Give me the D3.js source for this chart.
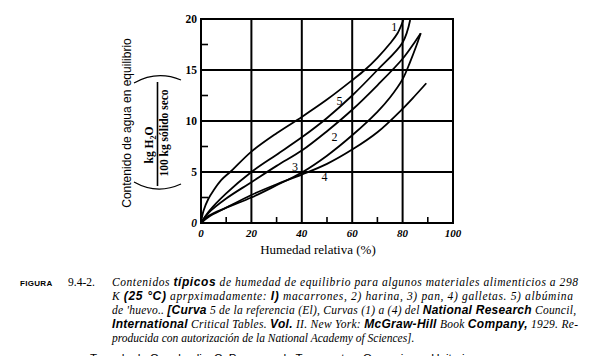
<!DOCTYPE html>
<html><head><meta charset="utf-8">
<script src="https://cdn.jsdelivr.net/npm/d3@7"></script>
<style>body{margin:0;background:#fff}</style>
</head><body>
<svg id="c" width="600" height="356"></svg>
<script>
// ---- data ----
const xTicks = [0, 20, 40, 60, 80, 100];
const yTicks = [0, 5, 10, 15, 20];
const xMinor = [10, 30, 50, 70, 90];
const yMinor = [2.5, 7.5, 12.5, 17.5];

const curve1 = [[0,0],[1,1.2],[3,2.4],[5,3.2],[8,4.2],[12,5.1],[20,7.0],[30,8.8],[40,10.4],[50,12.1],[60,14.0],[65,15.0],[70,16.2],[75,17.6],[78,18.6],[80.3,19.9]];
const curve5 = [[0,0],[3,1.1],[10,2.9],[20,5.0],[30,6.7],[40,8.4],[50,10.3],[60,12.5],[70,15.0],[80,17.7],[83,19.9]];
const curveMid = [[0,0],[3,1.0],[10,2.4],[20,4.0],[30,5.6],[40,7.1],[50,9.0],[60,11.1],[70,13.5],[80,16.1],[85,17.8],[87.2,18.6]];
const curve2 = [[0,0],[3,0.7],[10,1.5],[20,2.5],[30,3.7],[40,4.95],[50,6.6],[60,8.6],[70,10.9],[75,12.3],[80,14.1],[83,15.8],[85.5,17.4],[87.2,18.6]];
const curve4 = [[0,0],[3,0.6],[10,1.5],[20,2.75],[30,3.8],[40,4.75],[50,5.8],[60,7.2],[70,8.9],[80,11.2],[85,12.5],[89.4,13.7]];
const curves = [curve1, curve5, curveMid, curve2, curve4];

const labelText = ["1", "5", "2", "3", "4"];
const labelX = [76.7, 55.0, 53.0, 37.3, 49.0];
const labelY = [19.2, 12.0, 8.4, 5.5, 4.5];

const yTitle = "Contenido de agua en equilibrio";
const yUnitTop = "kg H";
const yUnitBottom = "100 kg sólido seco";
const xTitle = "Humedad relativa (%)";

// ---- drawing ----
const svg = d3.select("#c");
const x = d3.scaleLinear().domain([0, 100]).range([201, 453]);
const y = d3.scaleLinear().domain([0, 20]).range([223, 19]);
const serif = "'Liberation Serif','DejaVu Serif',serif";
const sans = "'Liberation Sans','DejaVu Sans',sans-serif";

// grid
const g = svg.append("g");
g.selectAll(".vg").data(xTicks.slice(1, -1)).join("line")
  .attr("x1", d => x(d)).attr("x2", d => x(d)).attr("y1", y(0)).attr("y2", y(20))
  .attr("stroke", "#000").attr("stroke-width", 2);
g.selectAll(".hg").data(yTicks.slice(1, -1)).join("line")
  .attr("y1", d => y(d)).attr("y2", d => y(d)).attr("x1", x(0)).attr("x2", x(100))
  .attr("stroke", "#000").attr("stroke-width", 2);
g.append("rect").attr("x", x(0)).attr("y", y(20)).attr("width", x(100) - x(0)).attr("height", y(0) - y(20))
  .attr("fill", "none").attr("stroke", "#000").attr("stroke-width", 2);

// minor ticks
g.selectAll(".xm").data(xMinor).join("line")
  .attr("x1", d => x(d)).attr("x2", d => x(d)).attr("y1", y(0)).attr("y2", y(0) - 6)
  .attr("stroke", "#000").attr("stroke-width", 1.6);
g.selectAll(".ym").data(yMinor).join("line")
  .attr("y1", d => y(d)).attr("y2", d => y(d)).attr("x1", x(0)).attr("x2", x(0) + 7)
  .attr("stroke", "#000").attr("stroke-width", 1.6);

// tick labels
g.selectAll(".xl").data(xTicks).join("text")
  .attr("x", d => x(d)).attr("y", 237).attr("text-anchor", "middle")
  .attr("font-family", serif).attr("font-style", "italic").attr("font-weight", "bold")
  .attr("font-size", 11).text(d => d);
g.selectAll(".yl").data(yTicks).join("text")
  .attr("x", 197).attr("y", d => y(d) + 4).attr("text-anchor", "end")
  .attr("font-family", serif).attr("font-weight", "bold")
  .attr("font-style", d => d === 0 ? "italic" : "normal")
  .attr("font-size", 11.5).text(d => d);

// curves
const line = d3.line().x(d => x(d[0])).y(d => y(d[1])).curve(d3.curveCatmullRom.alpha(0.5));
g.selectAll(".cv").data(curves).join("path")
  .attr("d", line).attr("fill", "none").attr("stroke", "#000").attr("stroke-width", 1.8);

// curve labels
g.selectAll(".cl").data(labelText).join("text")
  .attr("x", (d, i) => x(labelX[i])).attr("y", (d, i) => y(labelY[i]) + 4)
  .attr("text-anchor", "middle").attr("font-family", serif).attr("font-size", 12)
  .text(d => d);

// axis titles
svg.append("text").attr("transform", "translate(131,123) rotate(-90)")
  .attr("text-anchor", "middle").attr("font-family", sans).attr("font-size", 12)
  .text(yTitle);
const ut = svg.append("text").attr("transform", "translate(153,145) rotate(-90)")
  .attr("text-anchor", "middle").attr("font-family", serif).attr("font-size", 11.5).attr("font-weight", "bold");
ut.append("tspan").text(yUnitTop);
ut.append("tspan").attr("font-size", 8).attr("dy", 3).text("2");
ut.append("tspan").attr("dy", -3).text("O");
svg.append("line").attr("x1", 157.5).attr("x2", 157.5).attr("y1", 82).attr("y2", 186)
  .attr("stroke", "#000").attr("stroke-width", 1.6);
svg.append("text").attr("transform", "translate(168,133) rotate(-90)")
  .attr("text-anchor", "middle").attr("font-family", serif).attr("font-size", 11.5).attr("font-weight", "bold")
  .text(yUnitBottom);
// brackets
svg.append("path").attr("d", "M134,83 Q157,70 181,80").attr("fill", "none").attr("stroke", "#000").attr("stroke-width", 1.2);
svg.append("path").attr("d", "M134,182 Q157,195 181,184").attr("fill", "none").attr("stroke", "#000").attr("stroke-width", 1.2);

svg.append("text").attr("x", 318).attr("y", 254).attr("text-anchor", "middle")
  .attr("font-family", serif).attr("font-size", 13).text(xTitle);

// caption
svg.append("text").attr("x", 20).attr("y", 286).attr("font-family", sans).attr("font-weight", "bold")
  .attr("font-size", 8).attr("letter-spacing", 0.3).text("FIGURA");
svg.append("text").attr("x", 68).attr("y", 286).attr("font-family", serif).attr("font-size", 11.5)
  .text("9.4-2.");
const capLines = [
  [["Contenidos ", 0], ["típicos", 1], [" de humedad de equilibrio para algunos materiales alimenticios a 298", 0]],
  [["K ", 0], ["(25 °C)", 1], [" aprpximadamente: ", 0], ["I)", 1], [" macarrones, 2) harina, 3) pan, 4) galletas. 5) albúmina", 0]],
  [["de 'huevo.. ", 0], ["[Curva", 1], [" 5 de la referencia (El), Curvas (1) a (4) del ", 0], ["National Research", 1], [" Council,", 0]],
  [["International", 1], [" Critical Tables. ", 0], ["Vol.", 1], [" II. New York: ", 0], ["McGraw-Hill", 1], [" Book ", 0], ["Company,", 1], [" 1929. Re-", 0]],
  [["producida con autorización de la National Academy of Sciences].", 0]]
];
const capWidths = [466, 461, 464, 466, null];
capLines.forEach((ln, i) => {
  const t = svg.append("text").attr("x", 112).attr("y", 286 + i * 14)
    .attr("font-family", serif).attr("font-style", "italic").attr("font-size", 11.5);
  if (capWidths[i]) t.attr("textLength", capWidths[i]).attr("lengthAdjust", "spacing");
  ln.forEach(([s, b]) => {
    const sp = t.append("tspan").text(s);
    if (b) sp.attr("font-family", sans).attr("font-weight", "bold").attr("font-size", 12);
  });
});
svg.append("text").attr("x", 90).attr("y", 362).attr("font-family", sans).attr("font-size", 11.5)
  .text("Tomado de Geankoplis, C. Procesos de Transporte y Operaciones Unitarias");
</script>
</body></html>
